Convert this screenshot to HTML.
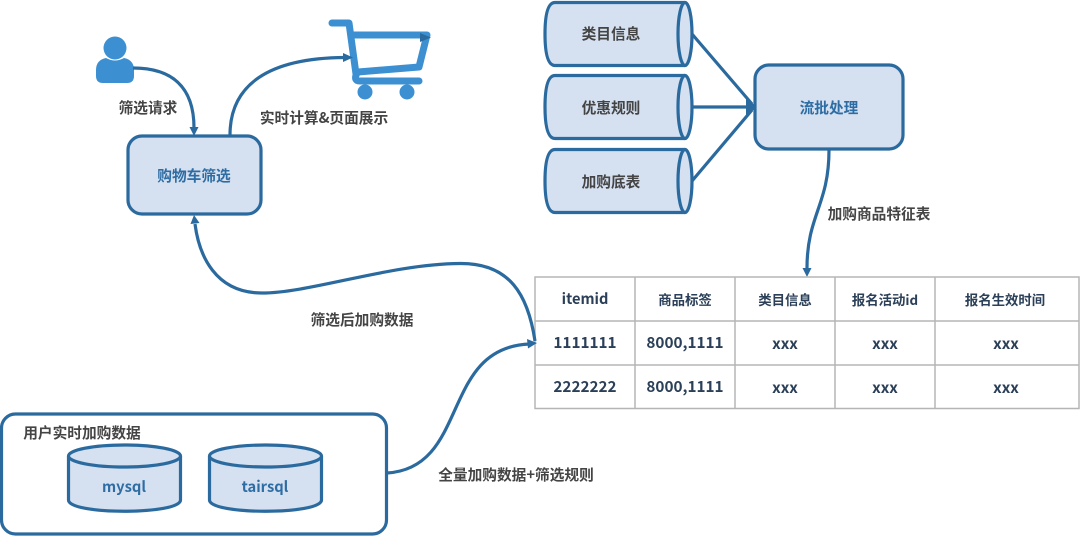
<!DOCTYPE html>
<html><head><meta charset="utf-8"><style>
html,body{margin:0;padding:0;background:#fff}
svg{display:block}
text{font-family:"Noto Sans CJK SC","Liberation Sans",sans-serif;font-weight:700;font-size:14.700px;text-anchor:middle}
.l{fill:#444}.b{fill:#2e6da4}.t{fill:#2b4058;font-size:15.300px}.c{fill:#2b4058;font-size:13.400px}.n{fill:#444}
.s{stroke:#2a6a9e;stroke-width:3.200;fill:none}
.f{fill:#d5e0f0;stroke:#2a6a9e;stroke-width:3.200}
.a{fill:#2a6a9e;stroke:none}
.g{stroke:#b5b5b5;stroke-width:1.500;fill:none}
</style></head><body>
<svg width="1080" height="536" viewBox="0 0 1080 536" xmlns="http://www.w3.org/2000/svg">
<!-- person -->
<circle cx="115" cy="48" r="11.500" fill="#3c90d2"/>
<path d="M106 58 Q115 63 124 58 Q134 60 134 70 L134 76 Q134 83 127 83 L103 83 Q96 83 96 76 L96 70 Q96 60 106 58Z" fill="#3c90d2"/>
<!-- cart -->
<g fill="none" stroke="#3c90d2" stroke-linecap="round" stroke-linejoin="round">
<path d="M332 23 L349 23 L356 74" stroke-width="7"/>
<path d="M352 35 L427 35 L419 67 L358 72" stroke-width="7"/>
<path d="M357 73 Q353 81 360 81 L419 81" stroke-width="7"/>
</g>
<circle cx="365" cy="92" r="7.500" fill="#3c90d2"/><circle cx="407" cy="92" r="7.500" fill="#3c90d2"/>
<path class="a" d="M420 33 L431 37.500 L420 42Z"/>
<!-- box 1 -->
<rect class="f" x="128" y="136" width="133" height="78" rx="14"/>
<text class="b" x="194" y="181">购物车筛选</text>
<!-- arrows top-left -->
<path class="s" d="M133 68 C170 68 194 85 194 128"/>
<path class="a" d="M189.500 127 L198.500 127 L194 136Z"/>
<path class="s" d="M230 135 C230 85 268 58 345 57.500"/>
<path class="a" d="M343 53 L353 57.500 L343 62Z"/>
<text class="l" x="148" y="113">筛选请求</text>
<text class="l" x="324" y="123">实时计算&amp;页面展示</text>
<!-- cylinders -->
<g>
<path class="f" d="M685 2.500 L555 2.500 Q545 2.500 545 34 Q545 65.500 555 65.500 L685 65.500"/>
<ellipse class="f" cx="685" cy="34" rx="7" ry="31.500"/>
<path class="f" d="M685 75.500 L555 75.500 Q545 75.500 545 107 Q545 138.500 555 138.500 L685 138.500"/>
<ellipse class="f" cx="685" cy="107" rx="7" ry="31.500"/>
<path class="f" d="M685 149.500 L555 149.500 Q545 149.500 545 181 Q545 212.500 555 212.500 L685 212.500"/>
<ellipse class="f" cx="685" cy="181" rx="7" ry="31.500"/>
</g>
<text class="n" x="611" y="39">类目信息</text>
<text class="n" x="611" y="113">优惠规则</text>
<text class="n" x="611" y="187">加购底表</text>
<!-- box 2 -->
<path class="s" d="M692 34 L752 104"/><path class="s" d="M692 107 L752 107"/><path class="s" d="M692 181 L752 110"/>
<path class="a" d="M746 96 L756 107 L746 118Z"/>
<rect class="f" x="755" y="65" width="148" height="84" rx="14"/>
<text class="b" x="829" y="113">流批处理</text>
<path class="s" d="M829 150 C829 205 807 215 807 268"/>
<path class="a" d="M802.500 268 L811.500 268 L807 277Z"/>
<text class="l" x="879" y="219">加购商品特征表</text>
<!-- table -->
<rect x="535" y="277" width="544" height="131.500" class="g"/>
<path class="g" d="M535 321H1079M535 365H1079M635 277V408M735 277V408M835 277V408M935 277V408"/>
<text class="t" style="font-size:14.600px" x="585" y="304">itemid</text><text class="c" x="685" y="305">商品标签</text><text class="c" x="785" y="305">类目信息</text><text class="c" x="885" y="305">报名活动id</text><text class="c" x="1005" y="305">报名生效时间</text>
<text class="t" x="585" y="348">1111111</text><text class="t" x="685" y="348">8000,1111</text><text class="t" x="785" y="349">xxx</text><text class="t" x="885" y="349">xxx</text><text class="t" x="1006" y="349">xxx</text>
<text class="t" x="585" y="392">2222222</text><text class="t" x="685" y="392">8000,1111</text><text class="t" x="785" y="393">xxx</text><text class="t" x="885" y="393">xxx</text><text class="t" x="1006" y="393">xxx</text>
<!-- long arrows -->
<path class="s" d="M535 341 C528 295 510 263 460 263.500 C390 264 310 293 262 293 C215 293 199 255 195 224"/>
<path class="a" d="M190.500 224 L199.500 223 L194 215Z"/>
<text class="l" x="362" y="325">筛选后加购数据</text>
<path class="s" d="M387 473 C470 468 440 347 530 344"/>
<path class="a" d="M527 339 L537 343 L528 348.500Z"/>
<text class="l" x="516" y="480">全量加购数据+筛选规则</text>
<!-- container -->
<rect x="1.500" y="414" width="385" height="120" rx="14" fill="#fff" stroke="#2a6a9e" stroke-width="3.200"/>
<text class="l" x="82" y="438">用户实时加购数据</text>
<path class="f" d="M68.500 456 L68.500 500 C68.500 515 180.500 515 180.500 500 L180.500 456"/>
<ellipse class="f" cx="124.500" cy="456" rx="56" ry="11"/>
<path class="f" d="M209.500 456 L209.500 500 C209.500 515 321.500 515 321.500 500 L321.500 456"/>
<ellipse class="f" cx="265.500" cy="456" rx="56" ry="11"/>
<text class="b" x="124" y="492">mysql</text>
<text class="b" x="265" y="492">tairsql</text>
</svg>
</body></html>
